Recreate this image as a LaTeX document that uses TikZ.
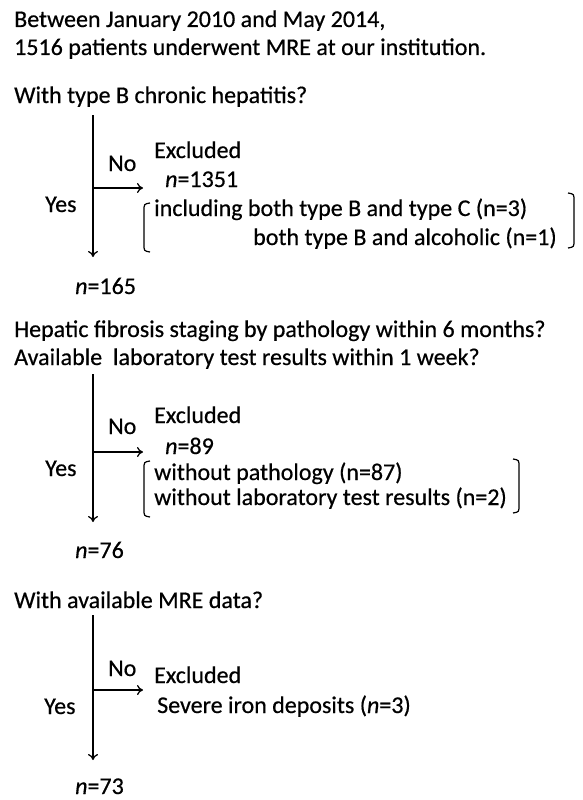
\documentclass[tikz,border=0pt]{standalone}
\usepackage{fontspec}
\setmainfont{Carlito}[UprightFeatures={FakeBold=0.5},ItalicFeatures={FakeBold=0.5}]
\usetikzlibrary{arrows.meta}
\begin{document}
\begin{tikzpicture}[x=1pt,y=-1pt,
  txt/.style={anchor=base west,inner sep=0pt,font=\fontsize{24}{28}\selectfont},
  arr/.style={line width=1.3pt,-{To[length=6pt,width=10pt]}},
  brk/.style={line width=1.2pt}]
\useasboundingbox (0,0) rectangle (583,800);
% block 1
\node[txt] (l1) at (14,27) {Between January 2010 and May 2014,};
\node[txt] (l2) at (14,55) {1516 patients underwent MRE at our institution.};
\node[txt] (q1) at (14,103) {With type B chronic hepatitis?};
\node[txt] (ex1) at (154,158) {Excluded};
\node[txt] (no1) at (108,171) {No};
\node[txt] (n1351) at (165,187) {\textit{n}=1351};
\node[txt] (yes1) at (45,212) {Yes};
\node[txt] (inc1) at (154,216) {including both type B and type C (n=3)};
\node[txt] (inc2) at (253,245) {both type B and alcoholic (n=1)};
\node[txt] (n165) at (75,294) {\textit{n}=165};
\coordinate (v1t) at (93,115);
\coordinate (v1b) at (93,257);
\coordinate (h1s) at (93,188);
\coordinate (h1e) at (143,188);
\draw[arr] (v1t) -- (v1b);
\draw[arr] (h1s) -- (h1e);
\draw[brk] (150,203) .. controls (144,204) .. (144,211) -- (144,244) .. controls (144,251) .. (150,252);
\draw[brk] (568,193) .. controls (574,194) .. (574,201) -- (574,240) .. controls (574,247) .. (568,248);
% block 2
\node[txt] (q2a) at (14,337) {Hepatic fibrosis staging by pathology within 6 months?};
\node[txt] (q2b) at (14,365) {Available\ \ laboratory test results within 1 week?};
\node[txt] (ex2) at (154,423) {Excluded};
\node[txt] (no2) at (108,434) {No};
\node[txt] (n89) at (165,454) {\textit{n}=89};
\node[txt] (yes2) at (45,476) {Yes};
\node[txt] (w1) at (154,480) {without pathology (n=87)};
\node[txt] (w2) at (154,505) {without laboratory test results (n=2)};
\node[txt] (n76) at (75,558) {\textit{n}=76};
\coordinate (v2t) at (93,374);
\coordinate (v2b) at (93,522);
\coordinate (h2s) at (93,452);
\coordinate (h2e) at (143,452);
\draw[arr] (v2t) -- (v2b);
\draw[arr] (h2s) -- (h2e);
\draw[brk] (150,461) .. controls (144,462) .. (144,469) -- (144,509) .. controls (144,516) .. (150,517);
\draw[brk] (513,459) .. controls (519,460) .. (519,467) -- (519,505) .. controls (519,512) .. (513,513);
% block 3
\node[txt] (q3) at (14,608) {With available MRE data?};
\node[txt] (no3) at (108,676) {No};
\node[txt] (ex3) at (154,683) {Excluded};
\node[txt] (sev) at (157,713) {Severe iron deposits (\textit{n}=3)};
\node[txt] (yes3) at (44,714) {Yes};
\node[txt] (n73) at (75,794) {\textit{n}=73};
\coordinate (v3t) at (93,615);
\coordinate (v3b) at (93,760);
\coordinate (h3s) at (93,690);
\coordinate (h3e) at (143,690);
\draw[arr] (v3t) -- (v3b);
\draw[arr] (h3s) -- (h3e);
\end{tikzpicture}
\end{document}
